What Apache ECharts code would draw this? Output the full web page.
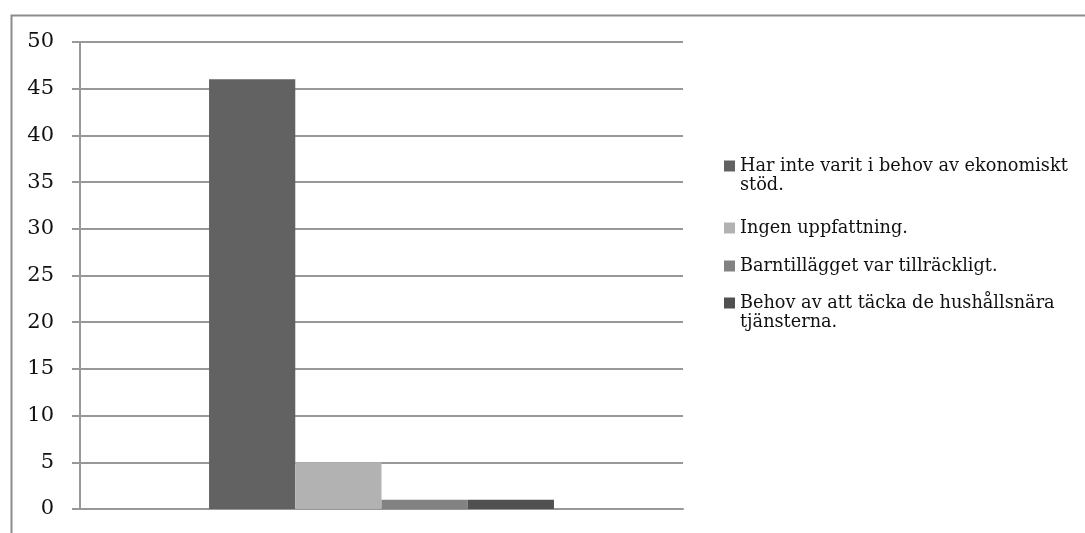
<!DOCTYPE html>
<html>
<head>
<meta charset="utf-8">
<script src="https://cdn.jsdelivr.net/npm/echarts@6/dist/echarts.min.js"></script>
<style>
  html, body { margin: 0; padding: 0; background: #fff; }
  #chart { width: 1085px; height: 533px; }
</style>
</head>
<body>
<div id="chart"></div>
<script>
// Survey answers (number of respondents)
const categories = [''];
const seriesNames = [
  'Har inte varit i behov av ekonomiskt stöd.',
  'Ingen uppfattning.',
  'Barntillägget var tillräckligt.',
  'Behov av att täcka de hushållsnära tjänsterna.'
];
const seriesValues = [[46], [5], [1], [1]];
const seriesColors = ['#626262', '#b2b2b2', '#828282', '#505050'];
// Legend labels as wrapped lines
const legendLines = [
  ['Har inte varit i behov av ekonomiskt', 'stöd.'],
  ['Ingen uppfattning.'],
  ['Barntillägget var tillräckligt.'],
  ['Behov av att täcka de hushållsnära', 'tjänsterna.']
];
const legendCenters = [166, 228, 266, 303];

const serif = '"DejaVu Serif", "Liberation Serif", serif';
const fontSize = 17.7;
const lineH = 19;
const legendLeft = 724;
const swatch = 11;
const textLeft = legendLeft + swatch + 5;

// one legend per series: swatch plus the first line of its label
const legends = seriesNames.map((name, i) => ({
  orient: 'vertical',
  left: legendLeft,
  top: legendCenters[i] - lineH / 2,
  padding: 0,
  itemWidth: swatch,
  itemHeight: swatch,
  icon: 'rect',
  data: [name],
  selectedMode: false,
  formatter: () => legendLines[i][0],
  textStyle: { fontFamily: serif, fontSize: fontSize, color: '#111111', lineHeight: lineH }
}));

// continuation lines of wrapped legend labels
const legendWraps = [];
legendLines.forEach((lines, i) => {
  lines.slice(1).forEach((line, k) => {
    legendWraps.push({
      type: 'text',
      left: textLeft,
      top: legendCenters[i] - lineH / 2 + (k + 1) * lineH,
      silent: true,
      style: {
        text: line,
        font: fontSize + 'px ' + serif,
        fill: '#111111',
        lineHeight: lineH,
        verticalAlign: 'top'
      }
    });
  });
});

const chart = echarts.init(document.getElementById('chart'), null, { renderer: 'canvas' });
chart.setOption({
  animation: false,
  backgroundColor: '#ffffff',
  graphic: [{
    type: 'rect',
    left: 9,
    top: 13,
    shape: { width: 1200, height: 700 },
    style: { fill: 'none', stroke: '#8c8c8c', lineWidth: 2 },
    silent: true
  }].concat(legendWraps),
  grid: { left: 80, top: 42, right: 402, bottom: 24 },
  legend: legends,
  xAxis: {
    type: 'category',
    data: categories,
    axisLine: { show: true, lineStyle: { color: '#989898', width: 2 } },
    axisTick: { show: false },
    axisLabel: { show: false }
  },
  yAxis: {
    type: 'value',
    min: 0,
    max: 50,
    interval: 5,
    axisLine: { show: true, lineStyle: { color: '#989898', width: 2 } },
    axisTick: { show: true, length: 8, lineStyle: { color: '#989898', width: 2 } },
    axisLabel: { margin: 26, fontFamily: serif, fontSize: 21, color: '#111111' },
    splitLine: { show: true, lineStyle: { color: '#989898', width: 2 } }
  },
  series: seriesNames.map((name, i) => ({
    name: name,
    type: 'bar',
    data: seriesValues[i],
    itemStyle: { color: seriesColors[i] },
    barGap: 0,
    barCategoryGap: '42.8%'
  }))
});
</script>
</body>
</html>
